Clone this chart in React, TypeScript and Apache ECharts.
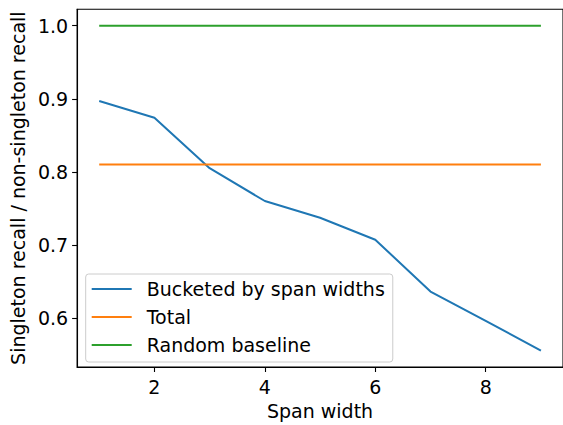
import React, { useEffect, useRef } from "react";
import * as echarts from "echarts";

const spanWidths = [1, 2, 3, 4, 5, 6, 7, 8, 9];
const bucketed = [0.897, 0.874, 0.805, 0.76, 0.737, 0.707, 0.636, 0.596, 0.555];
const totalX = [1, 9];
const totalValue = 0.81;
const randomValue = 1.0;
const xTicks = [2, 4, 6, 8];
const yTicks = [0.6, 0.7, 0.8, 0.9, 1.0];

const FONT = "DejaVu Sans";

export default function App() {
  const ref = useRef<HTMLDivElement>(null);
  useEffect(() => {
    if (!ref.current) return;
    const chart = echarts.init(ref.current, undefined, { renderer: "svg" });
    chart.setOption({
      animation: false,
      backgroundColor: "#ffffff",
      textStyle: { fontFamily: FONT },
      grid: {
        left: 75.3,
        top: 9.3,
        width: 490,
        height: 364,
        show: true,
        borderColor: "#000",
        borderWidth: 1.1,
        backgroundColor: "transparent",
      },
      legend: {
        orient: "vertical",
        left: 85.7,
        top: 274,
        padding: [4, 8, 6, 6],
        icon: "rect",
        itemWidth: 40,
        itemHeight: 2,
        itemGap: 6,
        backgroundColor: "rgba(255,255,255,0.8)",
        borderColor: "#cccccc",
        borderWidth: 1,
        borderRadius: 3,
        textStyle: {
          fontFamily: FONT,
          fontSize: 19,
          lineHeight: 22,
          color: "#000",
          padding: [0, 0, 0, 10],
        },
        data: ["Bucketed by span widths", "Total", "Random baseline"],
      },
      xAxis: {
        type: "value",
        min: 0.6,
        max: 9.4,
        name: "Span width",
        nameLocation: "middle",
        nameGap: 34,
        nameTextStyle: { fontFamily: FONT, fontSize: 19, color: "#000" },
        axisLine: { show: true, lineStyle: { color: "#000", width: 1.1 } },
        axisTick: {
          show: true,
          length: 5,
          lineStyle: { color: "#000", width: 1.1 },
          customValues: xTicks,
        },
        axisLabel: {
          fontFamily: FONT,
          fontSize: 19,
          color: "#000",
          margin: 10,
          customValues: xTicks,
          formatter: (v: number) => String(v),
        },
        splitLine: { show: false },
      },
      yAxis: {
        type: "value",
        min: 0.5327,
        max: 1.0225,
        name: "Singleton recall / non-singleton recall",
        nameLocation: "middle",
        nameGap: 46,
        nameTextStyle: { fontFamily: FONT, fontSize: 19, color: "#000" },
        axisLine: { show: true, lineStyle: { color: "#000", width: 1.1 } },
        axisTick: {
          show: true,
          length: 5,
          lineStyle: { color: "#000", width: 1.1 },
          customValues: yTicks,
        },
        axisLabel: {
          fontFamily: FONT,
          fontSize: 19,
          color: "#000",
          margin: 9,
          customValues: yTicks,
          formatter: (v: number) => v.toFixed(1),
        },
        splitLine: { show: false },
      },
      series: [
        {
          name: "Bucketed by span widths",
          type: "line",
          symbol: "none",
          data: spanWidths.map((x, i) => [x, bucketed[i]]),
          lineStyle: { color: "#1f77b4", width: 2 },
          itemStyle: { color: "#1f77b4" },
          z: 3,
        },
        {
          name: "Total",
          type: "line",
          symbol: "none",
          data: totalX.map((x) => [x, totalValue]),
          lineStyle: { color: "#ff7f0e", width: 2 },
          itemStyle: { color: "#ff7f0e" },
          z: 4,
        },
        {
          name: "Random baseline",
          type: "line",
          symbol: "none",
          data: totalX.map((x) => [x, randomValue]),
          lineStyle: { color: "#2ca02c", width: 2 },
          itemStyle: { color: "#2ca02c" },
          z: 5,
        },
      ],
    });
    return () => chart.dispose();
  }, []);
  return (
    <div
      ref={ref}
      style={{ position: "fixed", left: 0, top: 0, width: 563, height: 425 }}
    />
  );
}
